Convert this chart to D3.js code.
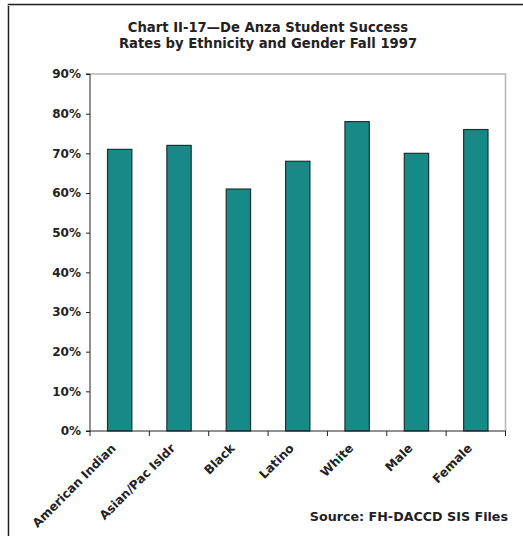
<!DOCTYPE html>
<html><head><meta charset="utf-8">
<script src="https://cdn.jsdelivr.net/npm/d3@7"></script>
<style>body{margin:0;background:#fff}svg{display:block}text{font-family:"DejaVu Sans",Verdana,sans-serif}</style>
</head><body><svg id="c" width="523" height="536"></svg>
<script>
const categories = ["American Indian","Asian/Pac Isldr","Black","Latino","White","Male","Female"];
const values = [71,72,61,68,78,70,76];
const yTicks = [0,10,20,30,40,50,60,70,80,90];
const titleLines = ["Chart II-17\u2014De Anza Student Success","Rates by Ethnicity and Gender Fall 1997"];
const source = "Source: FH-DACCD SIS Files";

const svg = d3.select("#c");
const L=90,R=505.5,T=74,B=431;
// outer frame
svg.append("path").attr("d","M8.5,540V4.5H530").attr("fill","none").attr("stroke","#222").attr("stroke-width",1.5);
svg.append("path").attr("d","M8,5.5H530").attr("stroke","#bbb").attr("stroke-width",1);

svg.selectAll("text.title").data(titleLines).join("text")
  .attr("x",268).attr("y",(d,i)=>32+i*15.5).attr("text-anchor","middle")
  .attr("font-size",13.2).attr("font-weight","bold").attr("fill","#222").text(d=>d);

const x = d3.scaleBand().domain(categories).range([L,R]).paddingInner(0.59).paddingOuter(0.295);
const xStep = d3.scaleBand().domain(categories).range([L,R]);
const y = d3.scaleLinear().domain([0,90]).range([B,T]);

// plot border top/right gray
svg.append("path").attr("d",`M${L},${T}H${R}V${B}`).attr("fill","none").attr("stroke","#b5b5b5").attr("stroke-width",1.5);

svg.selectAll("rect.bar").data(values).join("rect")
  .attr("x",(d,i)=>x(categories[i])).attr("width",x.bandwidth())
  .attr("y",d=>y(d)).attr("height",d=>B-y(d))
  .attr("fill","#178a87").attr("stroke","#1c3232").attr("stroke-width",1.2);

const ya = svg.append("g").attr("transform",`translate(${L},0)`)
  .call(d3.axisLeft(y).tickValues(yTicks).tickFormat(d=>d+"%").tickSize(4).tickPadding(5));
ya.select(".domain").attr("stroke","#222").attr("d",`M-4,${T}H0V${B}`);
ya.selectAll(".tick line").attr("stroke","#222");
ya.selectAll("text").attr("font-size",12).attr("font-weight","bold").attr("fill","#222").attr("font-family",null);

const xa = svg.append("g").attr("transform",`translate(0,${B})`);
xa.append("path").attr("d",`M${L-4},0H${R}`).attr("stroke","#222").attr("fill","none");
const bounds = categories.map(c=>xStep(c)).concat([R]);
xa.selectAll("line.t").data(bounds).join("line")
  .attr("x1",d=>d).attr("x2",d=>d).attr("y1",0).attr("y2",5).attr("stroke","#222");
xa.selectAll("text.lab").data(categories).join("text")
  .attr("transform",d=>`translate(${x(d)+x.bandwidth()/2-3},${18}) rotate(-45)`)
  .attr("text-anchor","end").attr("font-size",12.2).attr("font-weight","bold").attr("fill","#222").text(d=>d);

svg.append("text").attr("x",508).attr("y",520.5).attr("text-anchor","end")
  .attr("font-size",12.7).attr("font-weight","bold").attr("fill","#222").text(source);
</script></body></html>
